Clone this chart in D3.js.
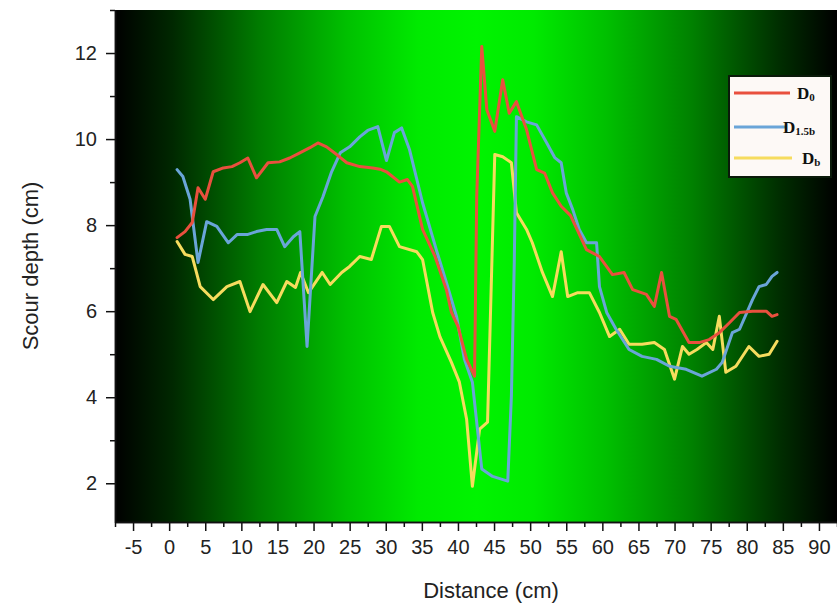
<!DOCTYPE html>
<html><head><meta charset="utf-8">
<script src="https://cdn.jsdelivr.net/npm/d3@7"></script>
<style>
html,body{margin:0;padding:0;background:#fff;}
svg{display:block;font-family:"Liberation Sans",Arial,sans-serif;}
</style></head>
<body><svg id="c" width="837" height="608"></svg>
<script>
// ---------- data ----------
const xTicks = [-5,0,5,10,15,20,25,30,35,40,45,50,55,60,65,70,75,80,85,90];
const yTicks = [2,4,6,8,10,12];
const seriesNames = ["D0","D1.5b","Db"];
const seriesColors = ["#e9503e","#6aa5d8","#f6dc5e"];

const d0X = [1.1,2.2,3.2,4.0,5.0,6.1,7.5,8.7,9.8,10.9,12.1,13.7,15.3,16.7,18.1,19.5,20.6,21.8,23.2,24.6,26.4,28.2,29.2,30.1,31.9,33.0,33.7,35.1,36.8,38.4,39.1,40.0,41.2,42.3,42.6,43.3,44.0,45.1,46.2,47.1,48.1,49.5,50.9,52.0,53.1,54.3,55.6,57.8,59.6,61.4,63.0,64.2,66.1,67.2,68.2,69.3,70.2,72.0,73.4,74.8,76.2,77.6,79.0,80.8,82.7,83.5,84.2];
const d0Y = [7.71,7.85,8.06,8.87,8.6,9.24,9.33,9.36,9.45,9.56,9.1,9.45,9.47,9.56,9.68,9.8,9.91,9.82,9.64,9.45,9.36,9.33,9.3,9.24,9.0,9.06,8.9,7.9,7.28,6.5,5.97,5.65,4.88,4.49,8.67,12.15,10.68,10.18,11.38,10.6,10.87,10.22,9.29,9.21,8.75,8.44,8.22,7.43,7.27,6.85,6.9,6.5,6.39,6.11,6.9,5.88,5.81,5.27,5.27,5.34,5.5,5.73,5.97,6.0,6.0,5.88,5.92];

const d15X = [1.1,1.9,2.9,4.0,5.2,6.6,8.2,9.4,10.8,12.1,13.5,14.9,16.0,17.2,18.1,19.1,20.2,21.3,22.5,23.7,25.0,26.4,27.5,28.9,30.1,31.2,32.2,33.3,35.1,37.0,38.4,39.8,40.9,42.0,42.7,43.3,44.8,46.9,47.4,47.8,48.1,49.5,50.9,52.3,53.4,54.3,55.0,55.9,56.8,57.8,59.2,59.6,60.6,61.9,63.7,65.5,67.5,69.3,71.6,73.8,75.8,76.6,78.0,79.0,80.8,81.7,82.7,83.5,84.2];
const d15Y = [9.29,9.13,8.6,7.13,8.08,7.97,7.59,7.78,7.78,7.85,7.9,7.9,7.5,7.73,7.85,5.18,8.2,8.66,9.24,9.68,9.82,10.05,10.2,10.29,9.5,10.15,10.26,9.75,8.52,7.43,6.67,5.88,4.88,4.35,3.26,2.33,2.16,2.05,4.02,7.13,10.52,10.4,10.33,9.91,9.57,9.45,8.75,8.36,7.9,7.59,7.59,6.57,5.97,5.58,5.11,4.95,4.88,4.72,4.65,4.49,4.65,4.81,5.5,5.58,6.27,6.57,6.62,6.81,6.9];

const dbX = [1.1,2.2,3.2,4.3,6.1,8.0,9.8,11.2,13.0,14.9,16.3,17.5,18.2,19.3,21.2,22.3,23.9,25.0,26.4,28.0,29.4,30.5,31.9,34.3,35.1,36.5,37.5,39.1,40.2,41.2,42.0,43.0,44.1,45.1,46.2,47.4,48.1,49.5,50.3,51.7,53.1,54.3,55.2,56.6,58.2,59.6,61.0,62.4,63.7,65.5,67.2,68.6,70.0,71.1,72.0,73.1,74.4,75.3,76.2,77.1,78.5,80.3,81.7,83.1,84.2];
const dbY = [7.62,7.32,7.27,6.57,6.27,6.57,6.69,5.99,6.62,6.2,6.69,6.55,6.9,6.43,6.9,6.62,6.9,7.04,7.27,7.2,7.97,7.97,7.5,7.38,7.2,5.97,5.41,4.81,4.35,3.49,1.93,3.26,3.42,9.64,9.59,9.45,8.29,7.9,7.59,6.9,6.34,7.38,6.34,6.43,6.43,5.97,5.41,5.58,5.23,5.23,5.27,5.11,4.42,5.18,5.0,5.11,5.27,5.11,5.88,4.58,4.72,5.18,4.95,5.0,5.3];

// ---------- layout ----------
const svg = d3.select("#c");
const L = 115, R = 837, T = 10, B = 522;
const x = d3.scaleLinear().domain([-7.5, 92.5]).range([L, R]);
const y = d3.scaleLinear().domain([1.1, 13]).range([B, T]);

const defs = svg.append("defs");
const g = defs.append("linearGradient").attr("id","bg")
  .attr("gradientUnits","userSpaceOnUse").attr("x1",L).attr("x2",R).attr("y1",0).attr("y2",0);
[[0,"#000000"],[0.08,"#002800"],[0.2,"#007c00"],[0.32,"#00c000"],[0.42,"#00ea00"],[0.5,"#00f400"],
 [0.58,"#00ea00"],[0.68,"#00c000"],[0.8,"#008000"],[0.92,"#002e00"],[1,"#000000"]]
 .forEach(([o,c]) => g.append("stop").attr("offset",o).attr("stop-color",c));

svg.append("rect").attr("x",L).attr("y",T).attr("width",R-L).attr("height",B-T).attr("fill","url(#bg)");

// axes
const xMinor = d3.range(-7.5, 92.6, 2.5).filter(v => !xTicks.includes(v));
const yMinor = [3,5,7,9,11,13];
const plain = d => String(d);
const axStyle = s => { s.selectAll("path").attr("stroke","#111").attr("stroke-width",1.5);
  s.selectAll("line").attr("stroke","#111").attr("stroke-width",1.5); };

svg.append("g").attr("transform",`translate(0,${B})`)
  .call(d3.axisBottom(x).tickValues(xMinor).tickSize(5).tickFormat("").tickSizeOuter(0)).call(axStyle);
svg.append("g").attr("transform",`translate(0,${B})`)
  .call(d3.axisBottom(x).tickValues(xTicks).tickFormat(plain).tickSize(9).tickPadding(9).tickSizeOuter(0)).call(axStyle)
  .selectAll("text").attr("font-size",20).attr("fill","#222").attr("font-family","Liberation Sans, Arial");

svg.append("g").attr("transform",`translate(${L},0)`)
  .call(d3.axisLeft(y).tickValues(yMinor).tickSize(5).tickFormat("").tickSizeOuter(0)).call(axStyle);
svg.append("g").attr("transform",`translate(${L},0)`)
  .call(d3.axisLeft(y).tickValues(yTicks).tickFormat(plain).tickSize(9).tickPadding(9).tickSizeOuter(0)).call(axStyle)
  .selectAll("text").attr("font-size",20).attr("fill","#222").attr("font-family","Liberation Sans, Arial");

svg.append("text").attr("x",(L+R)/2+15).attr("y",598).attr("text-anchor","middle")
  .attr("font-size",22).attr("fill","#222").text("Distance (cm)");
svg.append("text").attr("transform",`translate(38,${(T+B)/2}) rotate(-90)`).attr("text-anchor","middle")
  .attr("font-size",22).attr("fill","#222").text("Scour depth (cm)");

// lines
const series = [
  {name:seriesNames[0], xs:d0X, ys:d0Y, color:seriesColors[0]},
  {name:seriesNames[1], xs:d15X, ys:d15Y, color:seriesColors[1]},
  {name:seriesNames[2], xs:dbX, ys:dbY, color:seriesColors[2]}
];
const line = d3.line().x(d => x(d[0])).y(d => y(d[1]));
[series[2], series[1], series[0]].forEach(s => {
  svg.append("path").attr("d", line(s.xs.map((v,i) => [v, s.ys[i]])))
    .attr("fill","none").attr("stroke",s.color).attr("stroke-width",3)
    .attr("stroke-linejoin","round").attr("stroke-linecap","round");
});

// legend
const lg = svg.append("g");
lg.append("rect").attr("x",729).attr("y",76).attr("width",102).attr("height",101)
  .attr("fill","#fdf9f6").attr("stroke","#0a1a0a").attr("stroke-width",2);
const legY = [93,127,158];
const lineEnd = [790,787,792];
series.forEach((s,i) => {
  lg.append("line").attr("x1",734).attr("x2",lineEnd[i]).attr("y1",legY[i]).attr("y2",legY[i])
    .attr("stroke",s.color).attr("stroke-width",3);
});
const lt = (xx,yy,main,sub) => {
  const t = lg.append("text").attr("x",xx).attr("y",yy).attr("font-family","Liberation Serif, Times New Roman, serif")
    .attr("font-weight","bold").attr("fill","#111");
  t.append("tspan").attr("font-size",17).text(main);
  t.append("tspan").attr("font-size",11).attr("dy",2).text(sub);
};
lt(797,99,"D","0");
lt(783,133,"D","1.5b");
lt(802,164,"D","b");
</script></body></html>
